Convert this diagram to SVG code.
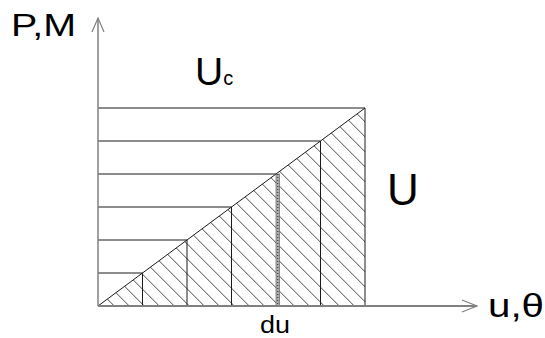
<svg xmlns="http://www.w3.org/2000/svg" width="545" height="338" viewBox="0 0 545 338">
<style>
  .lbl { font-family: "Liberation Sans", Arial, sans-serif; fill: #000; }
  .axis { stroke: #808080; fill: none; }
  .grid { stroke: #1a1a1a; stroke-width: 1; fill: none; }
  .hatch { stroke: #4a4a4a; stroke-width: 1; }
</style>
<defs>
  <pattern id="hatchPat" patternUnits="userSpaceOnUse" x="3.3" y="0" width="15" height="15">
    <path class="hatch" d="M-2,-2 L17,17 M-2,13 L2,17 M13,-2 L17,2"/>
  </pattern>
</defs>
<rect width="545" height="338" fill="#fff"/>

<g id="hatched-area">
  <polygon points="98,306 365,108 365,306" fill="url(#hatchPat)"/>
</g>

<g id="grid-lines">
  <line class="grid" x1="98" y1="108" x2="365" y2="108"/>
  <line class="grid" x1="98" y1="141" x2="320.5" y2="141"/>
  <line class="grid" x1="98" y1="174" x2="276" y2="174"/>
  <line class="grid" x1="98" y1="207" x2="231.5" y2="207"/>
  <line class="grid" x1="98" y1="240" x2="187" y2="240"/>
  <line class="grid" x1="98" y1="273" x2="142.5" y2="273"/>
  <line class="grid" x1="98" y1="306" x2="365" y2="108"/>
  <line class="grid" x1="142.5" y1="273" x2="142.5" y2="306"/>
  <line class="grid" x1="187" y1="240" x2="187" y2="306"/>
  <line class="grid" x1="231.5" y1="207" x2="231.5" y2="306"/>
  <line class="grid" x1="320.5" y1="141" x2="320.5" y2="306"/>
  <line class="grid" x1="365" y1="108" x2="365" y2="306"/>
</g>

<g id="du-strip">
  <rect x="276" y="174" width="3.5" height="132" fill="#b0b0b0" stroke="#666" stroke-width="0.7"/>
  <line x1="277.8" y1="174" x2="277.8" y2="306" stroke="#222" stroke-width="1" stroke-dasharray="1 2"/>
</g>

<g id="axes">
  <line class="axis" x1="98" y1="18" x2="98" y2="306" stroke-width="1.5"/>
  <polyline class="axis" points="92,32 98,18 104,32" stroke-width="1.2"/>
  <line class="axis" x1="98" y1="306" x2="477" y2="306" stroke-width="2"/>
  <polyline class="axis" points="462,300 477,306 462,312" stroke-width="1.2"/>
</g>

<g id="labels">
  <text class="lbl" x="11" y="36" font-size="32" textLength="65" lengthAdjust="spacingAndGlyphs">P,M</text>
  <text class="lbl" x="195" y="85" font-size="39">U<tspan font-size="20">c</tspan></text>
  <text class="lbl" x="387" y="205" font-size="44">U</text>
  <text class="lbl" x="260" y="333" font-size="23" textLength="30" lengthAdjust="spacingAndGlyphs">du</text>
  <text class="lbl" x="488" y="317" font-size="34" textLength="56" lengthAdjust="spacingAndGlyphs">u,θ</text>
</g>
</svg>
